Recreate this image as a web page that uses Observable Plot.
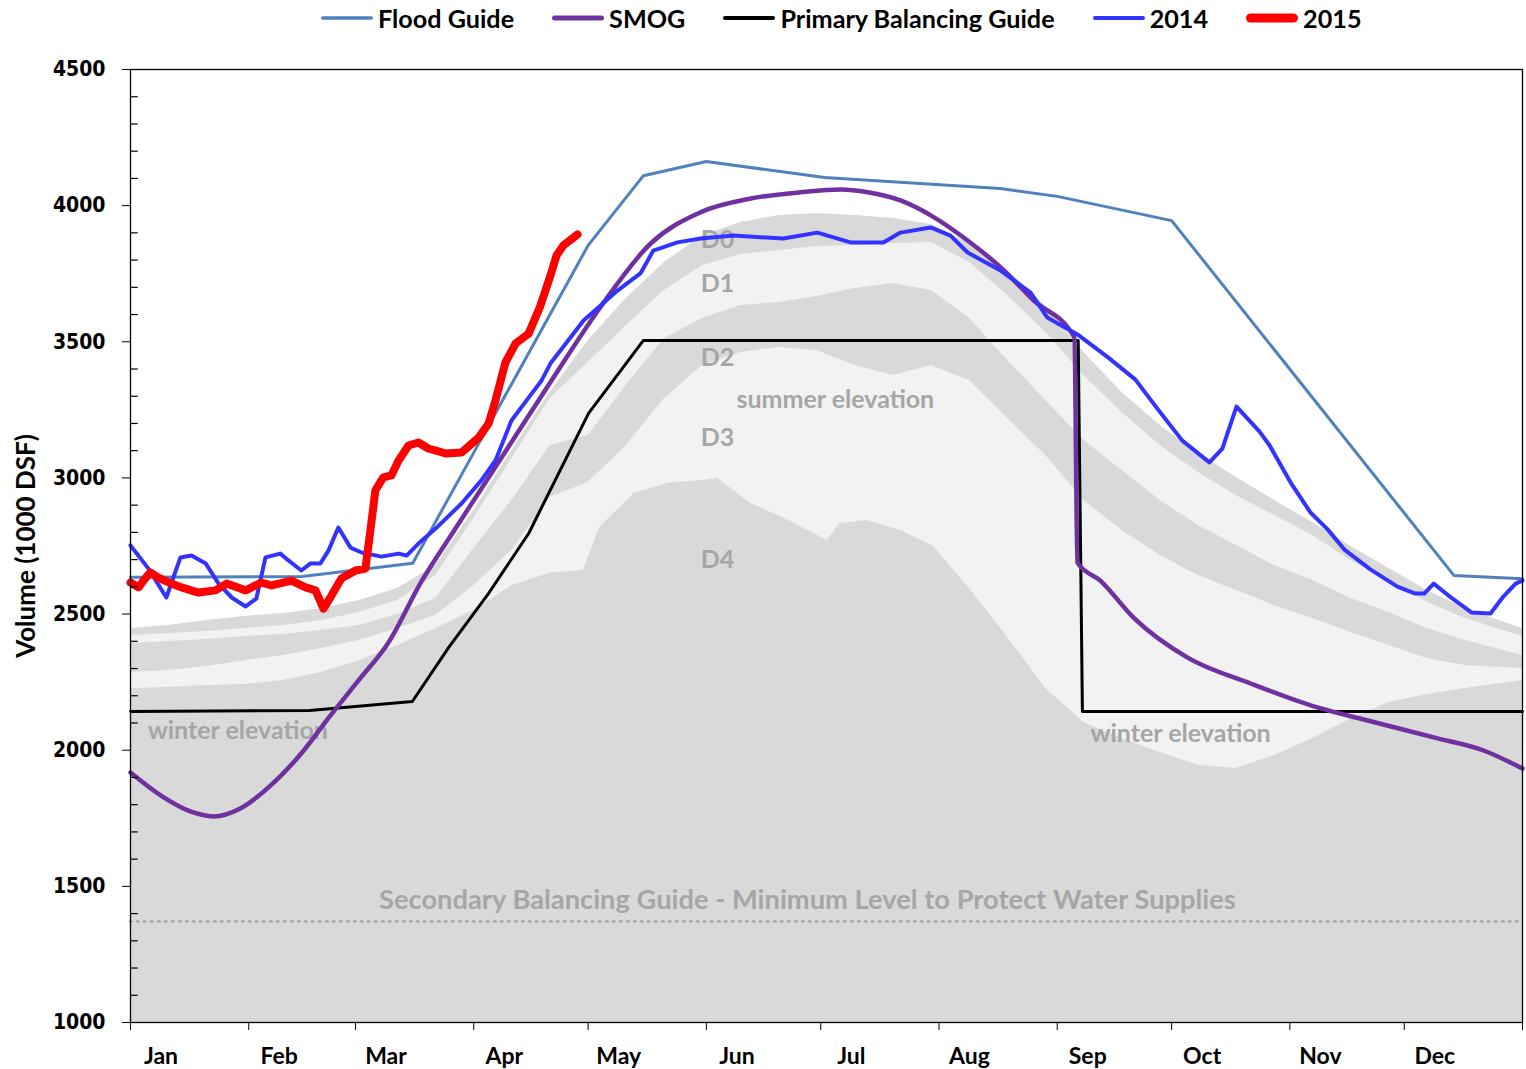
<!DOCTYPE html>
<html><head><meta charset="utf-8">
<script src="https://cdn.jsdelivr.net/npm/d3@7"></script>
<script src="https://cdn.jsdelivr.net/npm/@observablehq/plot@0.6"></script>
<style>
html,body{margin:0;padding:0;background:#fff;}
#wrap{position:relative;width:1526px;height:1069px;overflow:hidden;background:#fff;}
#legend{position:absolute;left:320px;top:2px;height:32px;display:flex;gap:37px;font-family:Lato,"Open Sans",sans-serif;font-weight:bold;font-size:25.2px;color:#000;}
.item{display:flex;align-items:center;white-space:nowrap;}
.item svg{margin-right:4px;display:block}
#chart{position:absolute;left:0;top:40px;}
</style></head><body>
<div id="wrap"><div id="legend"></div><div id="chart"></div></div>
<script>
// ---------- axis / labels ----------
const monthNames = ["Jan","Feb","Mar","Apr","May","Jun","Jul","Aug","Sep","Oct","Nov","Dec"];
const monthStarts = [0,31,59,90,120,151,181,212,243,273,304,334,365];
const yTicks = [1000,1500,2000,2500,3000,3500,4000,4500];

// ---------- Flood Guide ----------
const floodDay = [0,45,74,90,120,134.5,151,182,228,243,273,347,365];
const floodVol = [2635,2638,2687,3093,3854,4110,4162,4103,4063,4034,3945,2642,2630];

// ---------- SMOG ----------
const smogDay = [0,7.9,15.7,21.8,28.8,36.7,44.6,52.4,60,67.4,76.3,85,95.6,110.4,123.2,136.4,149.5,162.6,175.7,186.2,193.3,201.9,210.6,219.5,228.1,236.8,247.5,248.3,254.3,263,277.2,293.7,311.2,324.4,341.7,354.8,365];
const smogVol = [1918,1834,1775,1757,1786,1870,1985,2127,2260,2390,2620,2810,3038,3358,3627,3861,3976,4026,4049,4059,4049,4019,3958,3872,3774,3652,3516,2689,2623,2487,2340,2245,2157,2109,2047,1999,1933];

// ---------- Primary Balancing Guide ----------
const pbgDay = [0,47,73.9,83.4,93.9,104.4,120.1,134.5,248.5,249.6,365];
const pbgVol = [2142,2146,2179,2377,2576,2796,3237,3505,3505,2142,2142];

// ---------- 2014 ----------
const y2014Day = [0,4.7,9.4,13.1,16,19.7,23.1,26.5,30.2,33,35.4,39.3,41.4,44.8,47.2,49.8,51.9,54.5,57.7,60.6,65.8,70.3,72.4,75.5,80,86.8,92,95.7,99.9,104.4,107.8,110.1,118.8,127.7,133.7,137.1,143.4,149.5,158.1,171.2,180.1,188.8,197.4,201.9,209.8,215,219.5,228.1,236,240.4,248.3,256.4,263.5,269.6,275.8,282.9,286.3,290,296,298.7,304.2,309.4,313.9,318.3,325.1,332.2,336.7,339.3,341.7,345.6,351.6,356.6,359.8,363.2,365];
const y2014Vol = [2752,2667,2561,2708,2715,2686,2612,2561,2528,2557,2708,2722,2697,2660,2686,2686,2733,2818,2744,2726,2711,2722,2715,2759,2814,2906,2991,3064,3211,3295,3358,3420,3578,3688,3751,3835,3865,3879,3890,3879,3901,3865,3865,3901,3920,3890,3828,3762,3681,3589,3527,3442,3361,3248,3137,3057,3108,3262,3171,3119,2983,2873,2811,2737,2664,2601,2576,2576,2612,2568,2506,2502,2561,2612,2623];

// ---------- 2015 ----------
const y2015Day = [0,2.1,3.4,5.2,7.3,10,13.4,17.8,22.3,25.2,30.2,34.3,37,42.2,45.9,48.5,50.6,52.7,55.3,59,61.6,62.9,64.2,66.3,68.4,70.3,72.9,75.5,78.1,82.6,86.8,91.3,93.9,95.7,98.3,101,104.4,107.5,110.1,111.7,113.5,117.2];
const y2015Vol = [2616,2598,2623,2653,2634,2616,2598,2579,2587,2612,2587,2616,2605,2623,2598,2587,2520,2568,2631,2660,2667,2807,2954,3002,3009,3064,3119,3130,3108,3090,3093,3148,3200,3284,3424,3494,3530,3633,3743,3817,3854,3894];

// ---------- drought bands (boundaries, top to bottom) ----------
const bandDay = [0,10,20,30,40,50,60,70,80,90,100,110,120,130,140,150,160,170,180,190,200,210,220,230,240,250,260,270,280,290,300,310,320,330,340,350,365];
const d0Top = [2447,2458,2476,2491,2502,2520,2550,2594,2678,2880,3101,3314,3505,3659,3791,3890,3938,3964,3971,3964,3953,3931,3861,3762,3630,3461,3314,3193,3090,3002,2917,2836,2748,2667,2587,2520,2447];
const d1Top = [2421,2429,2436,2447,2458,2476,2506,2550,2642,2851,3071,3292,3424,3560,3688,3780,3821,3835,3850,3854,3861,3865,3791,3670,3534,3376,3240,3119,3020,2935,2862,2789,2697,2623,2543,2484,2418];
const d2Top = [2392,2399,2407,2418,2425,2440,2458,2498,2557,2741,2917,3119,3156,3340,3512,3586,3633,3644,3666,3696,3714,3688,3586,3431,3284,3138,3027,2917,2825,2752,2678,2623,2557,2506,2447,2403,2348];
const d3Top = [2285,2293,2307,2329,2348,2374,2403,2447,2495,2605,2734,2928,2983,3119,3292,3413,3461,3479,3468,3413,3376,3413,3358,3218,3082,2917,2807,2715,2642,2587,2531,2484,2432,2385,2337,2311,2300];
const d4Day = [0,10,20,30,40,50,60,70,80,90,100,110,118.8,123,132,141,150,154,162.6,171,182.7,186,193,202,210.6,219.5,228,240,250,260,270,280,290,300,310,320,330,340,350,365];
const d4Top = [2227,2230,2238,2241,2256,2285,2329,2385,2447,2513,2605,2650,2660,2818,2943,2980,2991,2998,2906,2855,2770,2833,2844,2807,2748,2601,2451,2227,2102,2043,1992,1944,1933,1981,2043,2116,2175,2205,2227,2256];

const secondaryGuide = 1371;

// ---------- annotations ----------
const bandLabels = ["D0","D1","D2","summer elevation","D3","D4","winter elevation","winter elevation"];
const bandLabelDay = [149.5,149.5,149.5,158.9,149.5,149.5,4.5,251.7];
const bandLabelVol = [3872,3714,3442,3288,3148,2697,2069,2061];
const guideLabel = ["Secondary Balancing Guide - Minimum Level to Protect Water Supplies"];
const guideLabelDay = [177.5];
const guideLabelVol = [1448];

// ---------- legend ----------
const legendNames = ["Flood Guide","SMOG","Primary Balancing Guide","2014","2015"];
const legendColors = ["#4f81bd","#7030a0","#000000","#3333ff","#ff0000"];
const legendWidths = [3.5,5,4,4,9];

// build tables
const zipT = (xs, ys) => xs.map((x,i)=>({day:x, vol:ys[i]}));
const floodT = zipT(floodDay, floodVol);
const smogT = zipT(smogDay, smogVol);
const pbgT = zipT(pbgDay, pbgVol);
const t2014 = zipT(y2014Day, y2014Vol);
const t2015 = zipT(y2015Day, y2015Vol);
const bandT = (ys) => zipT(bandDay, ys);
const d4T = zipT(d4Day, d4Top);
const labT = bandLabels.map((t,i)=>({text:t, day:bandLabelDay[i], vol:bandLabelVol[i]}));
const guideT = guideLabel.map((t,i)=>({text:t, day:guideLabelDay[i], vol:guideLabelVol[i]}));
const minorTicks = d3.range(1000, 4501, 100).filter(v => v % 500 !== 0);
const labelPos = monthStarts.slice(0,12).map(d => d + 8);
const labelMap = new Map(labelPos.map((p,i)=>[p, monthNames[i]]));

const DARK = "#d9d9d9", LIGHT = "#f2f2f2", GRAYTXT = "#a6a6a6";
const base = () => 1000;

const chart = Plot.plot({
  width: 1526, height: 1029,
  marginLeft: 130, marginRight: 4, marginTop: 29, marginBottom: 47,
  x: {domain: [0, 365]},
  y: {domain: [1000, 4500]},
  style: {fontFamily: "Lato, 'Open Sans', sans-serif", background: "transparent", color: "#000"},
  marks: [
    Plot.areaY(bandT(d0Top), {x: "day", y1: base, y2: "vol", fill: DARK}),
    Plot.areaY(bandT(d1Top), {x: "day", y1: base, y2: "vol", fill: LIGHT}),
    Plot.areaY(bandT(d2Top), {x: "day", y1: base, y2: "vol", fill: DARK}),
    Plot.areaY(bandT(d3Top), {x: "day", y1: base, y2: "vol", fill: LIGHT}),
    Plot.areaY(d4T, {x: "day", y1: base, y2: "vol", fill: DARK}),
    Plot.ruleY([secondaryGuide], {stroke: GRAYTXT, strokeWidth: 2.5, strokeDasharray: "1.5,5.5", strokeLinecap: "round"}),
    Plot.text(labT, {x: "day", y: "vol", text: "text", textAnchor: "start", fill: GRAYTXT, fontSize: 25, fontWeight: "bold"}),
    Plot.text(guideT, {x: "day", y: "vol", text: "text", textAnchor: "middle", fill: GRAYTXT, fontSize: 27.3, fontWeight: "bold"}),
    Plot.line(floodT, {x: "day", y: "vol", stroke: "#4f81bd", strokeWidth: 3}),
    Plot.line(pbgT, {x: "day", y: "vol", stroke: "#000", strokeWidth: 3}),
    Plot.line(smogT, {x: "day", y: "vol", stroke: "#7030a0", strokeWidth: 4.5, curve: "monotone-x"}),
    Plot.line(t2014, {x: "day", y: "vol", stroke: "#3333ff", strokeWidth: 4, strokeLinejoin: "round"}),
    Plot.line(t2015, {x: "day", y: "vol", stroke: "#ff0000", strokeWidth: 8, strokeLinejoin: "round", strokeLinecap: "round"}),
    // minor inside ticks
    Plot.link(minorTicks, {x1: () => 0, x2: () => 1.9, y1: d => d, y2: d => d, stroke: "#000", strokeWidth: 1.2}),
    Plot.frame({stroke: "#000", strokeWidth: 1.3}),
    Plot.axisY({ticks: yTicks, tickSize: 8, tickPadding: 17, tickFormat: d => String(d), fontSize: 21, fontWeight: "bold", fontFamily: "'DejaVu Sans Condensed', 'DejaVu Sans', sans-serif", label: null}),
    Plot.axisY({ticks: [], label: "Volume (1000 DSF)", labelAnchor: "center", labelArrow: "none", labelOffset: 114, fontSize: 26, fontWeight: "bold"}),
    Plot.axisX({ticks: monthStarts, tickSize: 8, tickFormat: () => "", label: null}),
    Plot.axisX({ticks: labelPos, tickSize: 0, tickPadding: 25, tickFormat: d => labelMap.get(d), fontSize: 23, fontWeight: "bold", label: null})
  ]
});
document.getElementById("chart").appendChild(chart);

// legend
const leg = document.getElementById("legend");
legendNames.forEach((name, i) => {
  const it = document.createElement("div");
  it.className = "item";
  const sw = legendWidths[i];
  it.innerHTML = `<svg width="54" height="20"><line x1="${sw/2+1}" y1="10" x2="${53-sw/2}" y2="10" stroke="${legendColors[i]}" stroke-width="${sw}" stroke-linecap="round"/></svg><span>${name}</span>`;
  leg.appendChild(it);
});
</script>
</body></html>
